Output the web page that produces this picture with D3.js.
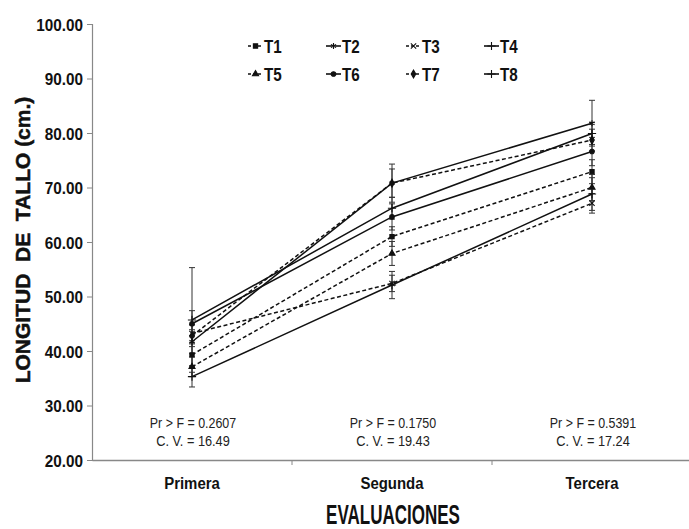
<!DOCTYPE html>
<html><head><meta charset="utf-8">
<script src="https://cdn.jsdelivr.net/npm/d3@7"></script>
<style>
body{margin:0;background:#fff;}
svg{display:block;}
text{font-family:"Liberation Sans",Arial,sans-serif;}
</style></head>
<body><svg id="c" width="689" height="529"></svg>
<script>
const evaluations = ["Primera","Segunda","Tercera"];
const seriesNames = ["T1","T2","T3","T4","T5","T6","T7","T8"];
const T1 = [39.3, 61.0, 72.9];
const T2 = [41.7, 70.8, 81.8];
const T3 = [43.2, 52.4, 67.1];
const T4 = [45.7, 66.2, 79.9];
const T5 = [37.1, 57.9, 70.0];
const T6 = [45.0, 64.6, 76.6];
const T7 = [42.8, 70.8, 78.7];
const T8 = [35.3, 52.1, 68.8];
const E1 = [2.0, 1.8, 2.2];
const E2 = [2.2, 3.5, 4.2];
const E3 = [1.6, 1.5, 1.8];
const E4 = [9.6, 2.0, 2.0];
const E5 = [1.8, 2.2, 2.4];
const E6 = [2.4, 2.4, 2.6];
const E7 = [2.0, 2.6, 2.0];
const E8 = [1.9, 2.5, 3.0];
const prF = ["Pr > F = 0.2607","Pr > F = 0.1750","Pr > F = 0.5391"];
const cv = ["C. V. = 16.49","C. V. = 19.43","C. V. = 17.24"];
const yTicks = [20,30,40,50,60,70,80,90,100];

const values = [T1,T2,T3,T4,T5,T6,T7,T8];
const errs = [E1,E2,E3,E4,E5,E6,E7,E8];
const dashed = [true,false,true,false,true,false,true,false];
const symbols = [d3.symbolSquare,d3.symbolAsterisk,d3.symbolTimes,d3.symbolPlus,d3.symbolTriangle,d3.symbolCircle,d3.symbolDiamond,d3.symbolPlus];
const symSize = [18,24,20,24,16,16,18,24];

const svg = d3.select("#c");
const x = d3.scaleBand().domain(evaluations).range([92,692]).padding(0);
const cx = d => x(d) + x.bandwidth()/2;
const y = d3.scaleLinear().domain([20,100]).range([460,24]);

function ctext(parent, px, py, str, size, weight, sx, anchor, fill){
  return parent.append("text")
    .attr("transform",`translate(${px},${py}) scale(${sx},1)`)
    .attr("text-anchor",anchor||"middle").attr("font-size",size)
    .attr("font-weight",weight).attr("fill",fill||"#111").text(str);
}

// y axis
const ya = svg.append("g").attr("transform","translate(92,0)")
  .call(d3.axisLeft(y).tickValues(yTicks).tickFormat(d3.format(".2f")).tickSize(5));
ya.select(".domain").attr("stroke","#888").attr("stroke-width",1.2);
ya.selectAll(".tick line").attr("stroke","#888");
ya.selectAll(".tick text").attr("x",null).attr("dy",null)
  .attr("transform","translate(-9,6) scale(0.9,1)")
  .attr("font-size",17).attr("font-weight","bold").attr("fill","#111");

// x axis
const xa = svg.append("g").attr("transform","translate(0,460)")
  .call(d3.axisBottom(x).tickSize(0));
xa.select(".domain").attr("stroke","#888").attr("stroke-width",1.5);
xa.selectAll(".tick text").attr("y",null).attr("dy",null)
  .attr("transform","translate(0,29) scale(0.88,1)")
  .attr("font-size",17).attr("font-weight","bold").attr("fill","#111");
xa.selectAll(".edge").data(evaluations.slice(1)).enter().append("line")
  .attr("x1",d=>x(d)).attr("x2",d=>x(d)).attr("y1",0).attr("y2",5).attr("stroke","#888");

// axis titles
svg.append("text").attr("transform","translate(30,240) rotate(-90)").attr("text-anchor","middle")
  .attr("font-weight","bold").attr("font-size",21)
  .attr("fill","#111").attr("stroke","#111").attr("stroke-width",0.5).style("white-space","pre")
  .text("LONGITUD  DE  TALLO (cm.)");
ctext(svg,393,524,"EVALUACIONES",27,"bold",0.63);

// stats
evaluations.forEach((e,i)=>{
  ctext(svg,cx(e)+1,428,prF[i],15,"normal",0.83,"middle","#222");
  ctext(svg,cx(e)+1,446,cv[i],15,"normal",0.85,"middle","#222");
});

// error bars
const g = svg.append("g");
values.forEach((vals,s)=>{
  vals.forEach((v,i)=>{
    const px = cx(evaluations[i]);
    const e = errs[s][i];
    g.append("line").attr("x1",px).attr("x2",px).attr("y1",y(v+e)).attr("y2",y(v-e)).attr("stroke","#333").attr("stroke-width",1);
    [v+e,v-e].forEach(t=>g.append("line").attr("x1",px-3).attr("x2",px+3).attr("y1",y(t)).attr("y2",y(t)).attr("stroke","#333").attr("stroke-width",1));
  });
});

// lines
const line = d3.line().x((d,i)=>cx(evaluations[i])).y(d=>y(d));
values.forEach((vals,s)=>{
  g.append("path").attr("d",line(vals)).attr("fill","none").attr("stroke","#111")
    .attr("stroke-width",1.5).attr("stroke-dasharray",dashed[s]?"4,2.5":null);
  vals.forEach((v,i)=>{
    g.append("path").attr("d",d3.symbol().type(symbols[s]).size(symSize[s])())
      .attr("transform",`translate(${cx(evaluations[i])},${y(v)})`)
      .attr("fill","#111").attr("stroke","#111").attr("stroke-width",1.1);
  });
});

// legend
const legCols = [248,326,406,484];
const legRows = [46,74];
seriesNames.forEach((n,s)=>{
  const lx = legCols[s%4], ly = legRows[Math.floor(s/4)];
  const lg = svg.append("g").attr("transform",`translate(${lx},${ly})`);
  lg.append("line").attr("x1",0).attr("x2",15).attr("y1",0).attr("y2",0).attr("stroke","#111")
    .attr("stroke-width",1.6).attr("stroke-dasharray",dashed[s]?"3,2":null);
  lg.append("path").attr("d",d3.symbol().type(symbols[s]).size(symSize[s])()).attr("transform","translate(7.5,0)")
    .attr("fill","#111").attr("stroke","#111").attr("stroke-width",1.1);
  ctext(lg,16,7,n,19,"bold",0.8,"start");
});
</script></body></html>
